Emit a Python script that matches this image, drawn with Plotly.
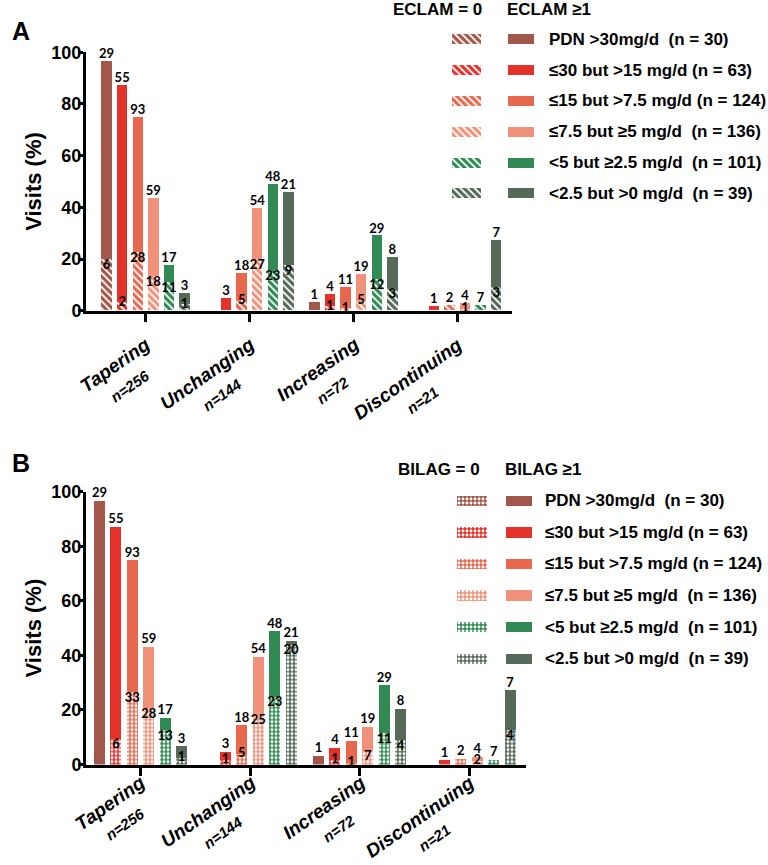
import plotly.graph_objects as go

# ---------------- data ----------------
groups = ["Tapering", "Unchanging", "Increasing", "Discontinuing"]
group_n = ["n=256", "n=144", "n=72", "n=21"]
series = ["PDN >30mg/d  (n = 30)", "≤30 but >15 mg/d (n = 63)", "≤15 but >7.5 mg/d (n = 124)",
          "≤7.5 but ≥5 mg/d  (n = 136)", "<5 but ≥2.5 mg/d  (n = 101)", "<2.5 but >0 mg/d  (n = 39)"]
colors = ["#A2574A", "#E4312A", "#E8684F", "#F2917A", "#318A53", "#566A59"]

# Panel A (ECLAM) - bar heights in % of visits, rows = series, cols = groups
a_total_pct = [[96.7, 0, 3.3, 0],
               [87.3, 4.8, 6.3, 1.6],
               [75.0, 14.5, 8.9, 2.2],
               [43.4, 39.7, 14.0, 2.9],
               [17.5, 49.0, 29.0, 2.2],
               [6.8, 46.0, 20.6, 27.3]]
a_zero_pct = [[20.0, 0, 0, 0],
              [3.2, 0, 1.6, 0],
              [22.6, 4.0, 0.8, 2.2],
              [13.2, 20.0, 3.7, 0.7],
              [10.9, 15.8, 12.0, 2.2],
              [2.3, 17.5, 8.5, 9.0]]
a_total_lbl = [[29, None, 1, None],
               [55, 3, 4, 1],
               [93, 18, 11, 2],
               [59, 54, 19, 4],
               [17, 48, 29, 7],
               [3, 21, 8, 7]]
a_zero_lbl = [[6, None, None, None],
              [2, None, 1, None],
              [28, 5, 1, None],
              [18, 27, 5, 1],
              [11, 23, 12, None],
              [1, 9, 3, 3]]

# Panel B (BILAG)
b_total_pct = [[96.7, 0, 3.3, 0],
               [87.3, 4.8, 6.3, 1.6],
               [75.0, 14.5, 8.9, 2.3],
               [43.3, 39.6, 14.0, 2.9],
               [17.2, 49.0, 29.2, 1.9],
               [6.8, 45.4, 20.6, 27.3]]
b_zero_pct = [[0, 0, 0, 0],
              [9.5, 1.6, 1.6, 0],
              [26.6, 4.0, 0.8, 2.3],
              [20.6, 18.4, 5.1, 1.5],
              [12.7, 25.0, 11.5, 1.9],
              [2.6, 44.0, 9.0, 12.7]]
b_total_lbl = a_total_lbl
b_zero_lbl = [[None, None, None, None],
              [6, 1, 1, None],
              [33, 5, 1, None],
              [28, 25, 7, 2],
              [13, 23, 11, None],
              [1, 20, 4, 4]]

y_ticks = [0, 20, 40, 60, 80, 100]

# ---------------- style ----------------
W, H = 768, 865
FONT = "Liberation Sans"
LBL_FONT = "Lato"
STEP, BW = 0.15, 0.10


def px_x(p):
    return p / W


def px_y(p):
    return 1 - p / H


hatch = dict(shape="\\", fgcolor="white", size=5, solidity=0.35, fillmode="replace")
check = dict(shape=".", fgcolor="white", size=4, solidity=0.42, fillmode="replace")

fig = go.Figure()


def add_panel(total_pct, zero_pct, total_lbl, zero_lbl, xa, ya, pat):
    for i, col in enumerate(colors):
        xs = [g + (i - 2.5) * STEP for g in range(len(groups))]
        fig.add_trace(go.Bar(x=xs, y=total_pct[i], width=BW, marker=dict(color=col, line=dict(width=0)),
                             xaxis=xa, yaxis=ya, showlegend=False, hoverinfo="skip"))
        fig.add_trace(go.Bar(x=xs, y=zero_pct[i], width=BW,
                             marker=dict(color=col, line=dict(width=0),
                                         pattern=dict(pat, bgcolor=col)),
                             xaxis=xa, yaxis=ya, showlegend=False, hoverinfo="skip"))
        fig.add_trace(go.Scatter(x=xs, y=total_pct[i], mode="text",
                                 text=["<b>%s</b>" % v if v is not None else "" for v in total_lbl[i]],
                                 textposition="top center", cliponaxis=False,
                                 textfont=dict(family=LBL_FONT, size=13, color="black"),
                                 xaxis=xa, yaxis=ya, showlegend=False, hoverinfo="skip"))
        fig.add_trace(go.Scatter(x=xs, y=zero_pct[i], mode="text",
                                 text=["<b>%s</b>" % v if v is not None else "" for v in zero_lbl[i]],
                                 textposition=["bottom center" if v >= 5 else "middle center" for v in zero_pct[i]],
                                 cliponaxis=False,
                                 textfont=dict(family=LBL_FONT, size=13, color="black"),
                                 xaxis=xa, yaxis=ya, showlegend=False, hoverinfo="skip"))


add_panel(a_total_pct, a_zero_pct, a_total_lbl, a_zero_lbl, "x", "y", hatch)
add_panel(b_total_pct, b_zero_pct, b_total_lbl, b_zero_lbl, "x2", "y2", check)

# legend swatches (pattern column and solid column) on hidden axes
rows = list(range(len(series)))
for xa, ya, pat in (("x3", "y3", hatch), ("x5", "y4", check)):
    for i, col in enumerate(colors):
        fig.add_trace(go.Bar(y=[rows[i]], x=[1], orientation="h", width=0.33,
                             marker=dict(color=col, line=dict(width=0), pattern=dict(pat, bgcolor=col)),
                             xaxis=xa, yaxis=ya, showlegend=False, hoverinfo="skip"))
for xa, ya in (("x4", "y3"), ("x6", "y4")):
    for i, col in enumerate(colors):
        fig.add_trace(go.Bar(y=[rows[i]], x=[1], orientation="h", width=0.33,
                             marker=dict(color=col, line=dict(width=0)),
                             xaxis=xa, yaxis=ya, showlegend=False, hoverinfo="skip"))

xcommon = dict(tickvals=list(range(len(groups))), ticktext=[""] * len(groups), ticks="outside", ticklen=8,
               tickwidth=3, tickcolor="black", showline=True, linewidth=3, linecolor="black",
               showgrid=False, zeroline=False, automargin=False)
ycommon = dict(range=[0, 100], tickvals=y_ticks, ticktext=["<b>%d</b>" % v for v in y_ticks],
               ticks="outside", ticklen=5, tickwidth=3, tickcolor="black", showline=True, linewidth=3,
               linecolor="black", tickfont=dict(family=FONT, size=18, color="black"),
               ticklabelstandoff=-7,
               showgrid=False, zeroline=False, automargin=False,
               title=dict(text="<b>Visits (%)</b>", font=dict(family=FONT, size=22, color="black"), standoff=4))

hidden = dict(visible=False, showgrid=False, zeroline=False, fixedrange=True, automargin=False)

fig.update_layout(
    template="none",
    width=W, height=H, margin=dict(l=0, r=0, t=0, b=0, autoexpand=False),
    paper_bgcolor="white", plot_bgcolor="white", barmode="overlay", bargap=0,
    xaxis=dict(xcommon, domain=[px_x(86), px_x(512)], range=[-0.573, 3.527], anchor="y"),
    yaxis=dict(ycommon, domain=[px_y(310.7), px_y(52.3)], anchor="x"),
    xaxis2=dict(xcommon, domain=[px_x(86), px_x(526)], range=[-0.498, 3.52], anchor="y2"),
    yaxis2=dict(ycommon, domain=[px_y(764.5), px_y(491.7)], anchor="x2"),
    xaxis3=dict(hidden, domain=[px_x(451.7), px_x(481)], range=[0, 1], anchor="y3"),
    xaxis4=dict(hidden, domain=[px_x(508), px_x(534)], range=[0, 1], anchor="y3"),
    yaxis3=dict(hidden, domain=[px_y(208.7), px_y(23.9)], range=[5.5, -0.5], anchor="x3"),
    xaxis5=dict(hidden, domain=[px_x(457), px_x(487)], range=[0, 1], anchor="y4"),
    xaxis6=dict(hidden, domain=[px_x(506), px_x(532)], range=[0, 1], anchor="y4"),
    yaxis4=dict(hidden, domain=[px_y(674.5), px_y(485)], range=[5.5, -0.5], anchor="x5"),
)

ann = []
# rotated category labels with centred sample-size line
for xa, ytop in (("x", 332), ("x2", 770)):
    for gi, (g, n) in enumerate(zip(groups, group_n)):
        ann.append(dict(text="<b><i>%s</i></b><br><span style='font-size:15px'><b><i>%s</i></b></span>" % (g, n),
                        xref=xa, yref="paper", x=gi, y=px_y(ytop), xshift=24, xanchor="right", yanchor="top",
                        textangle=-35, align="center", showarrow=False, borderpad=0,
                        font=dict(family=FONT, size=19, color="black")))
for ya, x0 in (("y3", 546.7), ("y4", 543.3)):
    for i, s in enumerate(series):
        ann.append(dict(text="<b>%s</b>" % s, xref="paper", yref=ya, x=px_x(x0), y=rows[i],
                        xanchor="left", yanchor="middle", showarrow=False,
                        font=dict(family=FONT, size=17, color="black")))
for txt, x, y, anchor in (("ECLAM = 0", 484, 9, "right"), ("ECLAM ≥1", 505, 9, "left"),
                          ("BILAG = 0", 482, 470, "right"), ("BILAG ≥1", 503, 470, "left")):
    ann.append(dict(text="<b>%s</b>" % txt, xref="paper", yref="paper", x=px_x(x), y=px_y(y),
                    xanchor=anchor, yanchor="middle", showarrow=False,
                    font=dict(family=FONT, size=17, color="black")))
for txt, y in (("A", 31), ("B", 463)):
    ann.append(dict(text="<b>%s</b>" % txt, xref="paper", yref="paper", x=px_x(10), y=px_y(y),
                    xanchor="left", yanchor="middle", showarrow=False,
                    font=dict(family=FONT, size=25, color="black")))
fig.update_layout(annotations=ann)

fig.write_html("out.html", config={"displayModeBar": False},
               post_script="document.body.style.margin='0px';document.body.style.overflow='hidden';")
